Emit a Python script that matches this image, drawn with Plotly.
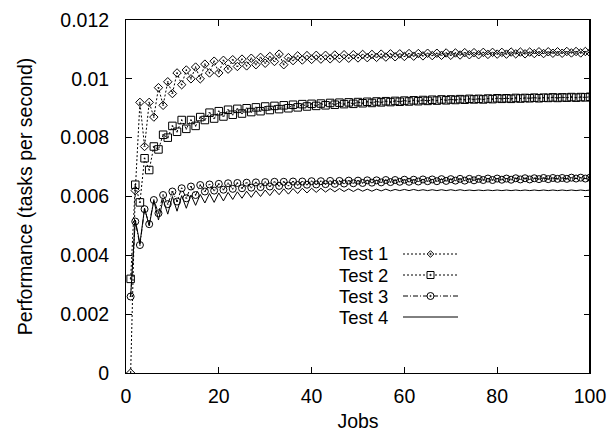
import plotly.graph_objects as go

jobs = list(range(1, 101))

test1 = [
    0, 0.0062, 0.0092, 0.0077, 0.0092, 0.0087, 0.0097, 0.0091, 0.0099, 0.0095,
    0.0102, 0.0098, 0.0103, 0.0100, 0.0104, 0.0100, 0.0105, 0.0102, 0.0106, 0.0102,
    0.01063, 0.01033, 0.01065, 0.01042, 0.01067, 0.01044, 0.0107, 0.01048, 0.01073, 0.01053,
    0.01076, 0.01059, 0.01084, 0.01048, 0.01072, 0.01062, 0.01078, 0.01064, 0.01079, 0.01066,
    0.0108, 0.01067, 0.0108, 0.01068, 0.01081, 0.01069, 0.01082, 0.0107, 0.01082, 0.01071,
    0.01083, 0.01072, 0.01083, 0.01073, 0.01084, 0.01074, 0.01085, 0.01075, 0.01085, 0.01076,
    0.01086, 0.01077, 0.01086, 0.01078, 0.01087, 0.01079, 0.01087, 0.0108, 0.01088, 0.0108,
    0.01088, 0.01081, 0.01089, 0.01082, 0.01089, 0.01082, 0.0109, 0.01083, 0.0109, 0.01084,
    0.0109, 0.01084, 0.01091, 0.01085, 0.01091, 0.01085, 0.01091, 0.01086, 0.01092, 0.01086,
    0.01092, 0.01087, 0.01092, 0.01087, 0.01093, 0.01088, 0.01093, 0.01088, 0.01093, 0.01089,
]

test2 = [
    0.0032, 0.0064, 0.0058, 0.0073, 0.0069, 0.0077, 0.0076, 0.0081, 0.0080, 0.0084,
    0.0082, 0.0086, 0.0083, 0.0086, 0.0084, 0.0087, 0.0086, 0.00885, 0.00865, 0.0089,
    0.00872, 0.00895, 0.00878, 0.00898, 0.00882, 0.009, 0.00887, 0.00903, 0.0089, 0.00906,
    0.00894, 0.00908, 0.00897, 0.0091, 0.009, 0.00912, 0.00903, 0.00914, 0.00906, 0.00915,
    0.00908, 0.00916, 0.0091, 0.00918, 0.00912, 0.00919, 0.00914, 0.0092, 0.00915, 0.00921,
    0.00917, 0.00922, 0.00918, 0.00923, 0.0092, 0.00924, 0.00921, 0.00925, 0.00922, 0.00926,
    0.00923, 0.00927, 0.00924, 0.00928, 0.00925, 0.00929, 0.00926, 0.0093, 0.00927, 0.0093,
    0.00928, 0.00931, 0.00929, 0.00932, 0.0093, 0.00932, 0.0093, 0.00933, 0.00931, 0.00934,
    0.00932, 0.00934, 0.00932, 0.00935, 0.00933, 0.00935, 0.00934, 0.00936, 0.00934, 0.00936,
    0.00935, 0.00937, 0.00935, 0.00937, 0.00936, 0.00938, 0.00936, 0.00938, 0.00937, 0.00939,
]

test3 = [
    0.0026, 0.00515, 0.00435, 0.00557, 0.00506, 0.00588, 0.00543, 0.00605, 0.00574, 0.00617,
    0.00583, 0.00628, 0.00594, 0.00634, 0.00605, 0.00639, 0.00617, 0.00641, 0.0062, 0.00643,
    0.00623, 0.00645, 0.00626, 0.00646, 0.00628, 0.00647, 0.0063, 0.00648, 0.00632, 0.00649,
    0.00634, 0.0065, 0.00636, 0.0065, 0.00637, 0.00651, 0.00639, 0.00651, 0.0064, 0.00652,
    0.00641, 0.00652, 0.00642, 0.00653, 0.00643, 0.00653, 0.00644, 0.00654, 0.00645, 0.00654,
    0.00646, 0.00655, 0.00647, 0.00655, 0.00648, 0.00656, 0.00649, 0.00656, 0.0065, 0.00657,
    0.0065, 0.00657, 0.00651, 0.00658, 0.00652, 0.00658, 0.00652, 0.00659, 0.00653, 0.00659,
    0.00654, 0.0066, 0.00654, 0.0066, 0.00655, 0.0066, 0.00656, 0.00661, 0.00656, 0.00661,
    0.00657, 0.00661, 0.00657, 0.00662, 0.00658, 0.00662, 0.00658, 0.00662, 0.00659, 0.00663,
    0.00659, 0.00663, 0.0066, 0.00663, 0.0066, 0.00664, 0.00661, 0.00664, 0.00661, 0.00664,
]

test4 = [
    0.0026, 0.0052, 0.0044, 0.0056, 0.0050, 0.00586, 0.0052, 0.0059, 0.0054, 0.0060,
    0.0055, 0.00603, 0.0056, 0.00605, 0.0057, 0.00607, 0.00578, 0.0061, 0.0058, 0.00612,
    0.00585, 0.00614, 0.0059, 0.00616, 0.00594, 0.00618, 0.00597, 0.0062, 0.006, 0.00622,
    0.00603, 0.00624, 0.00606, 0.00626, 0.00608, 0.00627, 0.0061, 0.00628, 0.00612, 0.00628,
    0.00614, 0.00628, 0.00615, 0.00627, 0.00616, 0.00627, 0.00617, 0.00626, 0.00617, 0.00626,
    0.00618, 0.00625, 0.00618, 0.00625, 0.00619, 0.00625, 0.00619, 0.00624, 0.0062, 0.00624,
    0.0062, 0.00624, 0.0062, 0.00623, 0.0062, 0.00623, 0.0062, 0.00623, 0.0062, 0.00623,
    0.0062, 0.00623, 0.0062, 0.00622, 0.0062, 0.00622, 0.0062, 0.00622, 0.0062, 0.00622,
    0.0062, 0.00622, 0.0062, 0.00622, 0.0062, 0.00622, 0.0062, 0.00622, 0.0062, 0.00622,
    0.0062, 0.00622, 0.0062, 0.00622, 0.0062, 0.00622, 0.0062, 0.00622, 0.0062, 0.00622,
]

series_names = ["Test 1", "Test 2", "Test 3", "Test 4"]
x_ticks = [0, 20, 40, 60, 80, 100]
y_ticks = [0, 0.002, 0.004, 0.006, 0.008, 0.01, 0.012]
y_ticklabels = ["0", "0.002", "0.004", "0.006", "0.008", "0.01", "0.012"]

FONT = "Liberation Sans, Arial, Helvetica, sans-serif"
FS = 19.5
LEG_FS = 18.5

styles = [
    dict(dash="2px,2px", symbol="diamond-open-dot", size=6.5, mode="lines+markers"),
    dict(dash="2px,2px", symbol="square-open-dot", size=7.5, mode="lines+markers"),
    dict(dash="5px,2px,1px,2px", symbol="circle-open-dot", size=7, mode="lines+markers"),
    dict(dash="solid", symbol="circle", size=1, mode="lines"),
]

fig = go.Figure()
for name, ys, st in zip(series_names, [test1, test2, test3, test4], styles):
    fig.add_trace(go.Scatter(
        x=jobs, y=ys, name=name, mode=st["mode"],
        line=dict(color="black", width=1, dash=st["dash"]),
        marker=dict(symbol=st["symbol"], size=st["size"], color="black",
                    line=dict(color="black", width=1)),
        showlegend=False,
    ))

# custom legend (text left of sample, as in the reference)
L, R, T, B = 126, 21, 20, 59
W, H = 611, 432
pw, ph = W - L - R, H - T - B


def px2x(p):
    return (p - L) / pw


def px2y(p):
    return (H - B - p) / ph


text_right = px2x(390)
line_x0, line_x1 = px2x(403), px2x(458)
mark_x = px2x(430.5)
rows = [254, 275, 296, 317]

shapes = []
annotations = []
for name, st, ry in zip(series_names, styles, rows):
    yy = px2y(ry)
    annotations.append(dict(
        x=text_right, y=yy, xref="paper", yref="paper", text=name,
        showarrow=False, xanchor="right", yanchor="middle",
        font=dict(family=FONT, size=LEG_FS, color="black"),
    ))
    shapes.append(dict(
        type="line", xref="paper", yref="paper", x0=line_x0, x1=line_x1, y0=yy, y1=yy,
        line=dict(color="black", width=1, dash=st["dash"]),
    ))
    common = dict(xref="paper", yref="paper", xsizemode="pixel", ysizemode="pixel",
                  xanchor=mark_x, yanchor=yy, line=dict(color="black", width=1))
    if st["symbol"].startswith("diamond"):
        shapes.append(dict(type="path", path="M0,3.3 L3.3,0 L0,-3.3 L-3.3,0 Z",
                           fillcolor="white", **common))
    elif st["symbol"].startswith("square"):
        shapes.append(dict(type="rect", x0=-3.5, x1=3.5, y0=-3.5, y1=3.5,
                           fillcolor="white", **common))
    elif st["symbol"].startswith("circle") and st["mode"] != "lines":
        shapes.append(dict(type="circle", x0=-3.5, x1=3.5, y0=-3.5, y1=3.5,
                           fillcolor="white", **common))
    if st["mode"] != "lines":
        shapes.append(dict(type="circle", x0=-0.8, x1=0.8, y0=-0.8, y1=0.8,
                           fillcolor="black", xref="paper", yref="paper",
                           xsizemode="pixel", ysizemode="pixel",
                           xanchor=mark_x, yanchor=yy, line=dict(color="black", width=0.5)))

# heavier right border as in the reference
shapes.append(dict(type="line", xref="paper", yref="paper", x0=1, x1=1, y0=0, y1=1,
                   line=dict(color="black", width=2)))

axis_common = dict(
    showline=True, linecolor="black", linewidth=1, mirror="ticks",
    ticks="inside", ticklen=6, tickwidth=1, tickcolor="black",
    showgrid=False, zeroline=False, automargin=False,
    tickfont=dict(family=FONT, size=FS, color="black"),
)

fig.update_layout(
    width=W, height=H,
    margin=dict(l=L, r=R, t=T, b=B),
    plot_bgcolor="white", paper_bgcolor="white",
    font=dict(family=FONT, size=FS, color="black"),
    xaxis=dict(range=[0, 100], tickvals=x_ticks, ticklabelstandoff=6,
               title=dict(text="Jobs", font=dict(family=FONT, size=FS), standoff=8),
               **axis_common),
    yaxis=dict(range=[0, 0.012], tickvals=y_ticks, ticktext=y_ticklabels,
               ticklabelstandoff=12,
               title=dict(text="Performance (tasks per second)",
                          font=dict(family=FONT, size=FS), standoff=22),
               **axis_common),
    shapes=shapes, annotations=annotations,
    showlegend=False,
)

fig.write_html(
    "out.html",
    config={"displayModeBar": False, "staticPlot": True},
    post_script="document.body.style.margin='0';document.body.style.overflow='hidden';",
)
